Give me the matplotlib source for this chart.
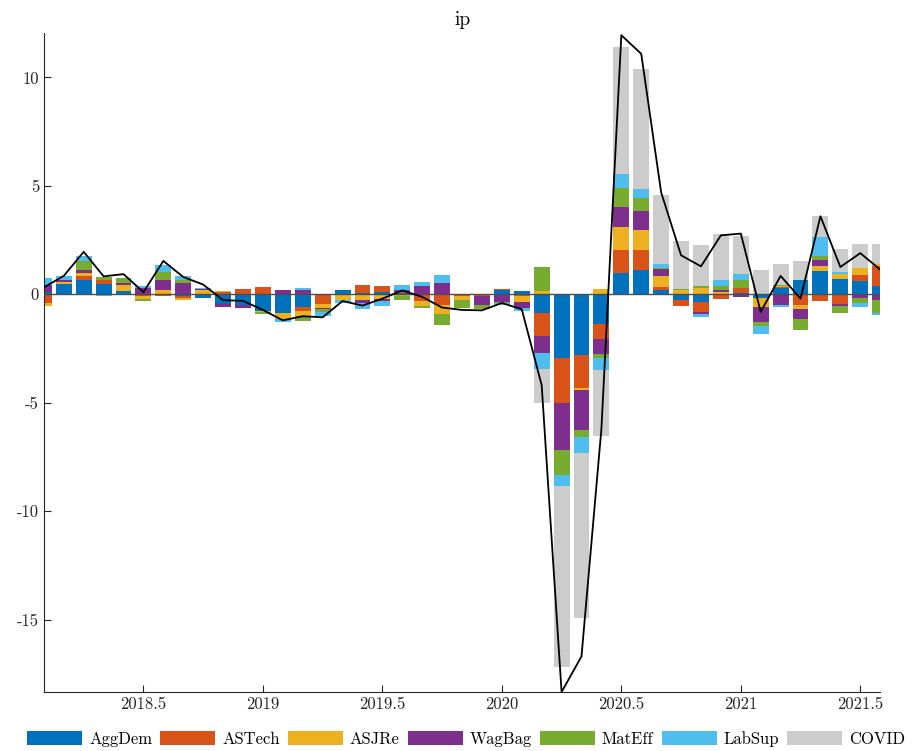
import matplotlib
matplotlib.use("Agg")
import matplotlib.pyplot as plt
import numpy as np

# monthly dates, Feb 2018 .. Aug 2021 (decimal year)
n = 43
dates = 2018 + (np.arange(n) + 1) / 12.0

shock_names = ['AggDem', 'ASTech', 'ASJRe', 'WagBag', 'MatEff', 'LabSup', 'COVID']
colors = ['#0072BD', '#D95319', '#EDB120', '#7E2F8E', '#77AC30', '#4DBEEE', '#CCCCCC']

aggdem = [0.1, 0.49, 0.65, 0.49, 0.15, 0, 0, -0.1, -0.15, -0.43, -0.5, -0.78, -0.88, -0.58, 0.03,
          0.22, 0.08, 0.1, 0.05, 0, 0, 0, 0, 0.2, 0.15, -0.85, -2.93, -2.78, -1.35, 0.98,
          1.1, 0.18, -0.28, -0.35, 0, 0.05, -0.15, 0.3, 0.65, 1.08, 0.72, 0.62, 0.37]
astech = [-0.4, -0.05, 0.18, 0.18, 0, -0.08, -0.08, -0.05, 0, 0.1, 0.26, 0.32, 0, -0.2, -0.46,
          -0.05, 0.35, 0.3, 0.05, -0.3, -0.5, -0.08, -0.08, 0.05, -0.07, -1.05, -2.07, -1.54, -0.69, 1.05,
          0.95, 0.18, -0.28, -0.46, -0.2, 0.25, 0, 0.05, -0.5, -0.3, -0.46, 0.29, 0.92]
asjre = [-0.12, 0.08, 0.15, 0, 0.26, -0.12, 0.22, -0.1, 0.18, 0.05, 0, -0.05, -0.25, -0.23, -0.15,
         -0.22, -0.25, -0.2, -0.1, -0.23, -0.43, -0.2, 0, 0, -0.28, 0.15, -0.02, -0.1, 0.26, 1.08,
         0.92, 0.5, 0.2, 0.3, 0.1, 0, -0.43, 0.05, -0.2, 0.22, 0.23, 0.32, 0.12]
wagbag = [0.34, 0.1, 0.15, 0, 0.12, 0.3, 0.43, 0.5, 0.06, -0.15, -0.12, 0, 0.18, 0.22, -0.06,
          0, -0.15, -0.1, 0.12, 0.4, 0.52, 0, -0.43, -0.35, -0.26, -0.8, -2.14, -1.85, -0.69, 0.92,
          0.85, 0.3, 0, -0.1, 0.12, -0.12, -0.7, -0.5, -0.46, 0.3, -0.1, -0.15, -0.28]
mateff = [0, 0, 0.4, 0.12, 0.23, -0.1, 0.38, 0.15, 0, 0, 0, -0.1, 0, -0.22, -0.14,
          0, 0, 0, -0.15, -0.12, -0.5, -0.35, -0.15, -0.05, 0, 1.1, -1.16, -0.31, -0.2, 0.89,
          0.63, 0.05, 0.05, 0.08, 0.18, 0.35, -0.2, 0.05, -0.5, 0.18, -0.3, -0.25, -0.58]
labsup = [0.3, 0.17, 0.23, -0.08, 0, 0.08, 0.34, 0.2, 0.05, 0, 0, 0, -0.13, 0.05, -0.2,
          -0.12, -0.3, -0.25, 0.22, 0.16, 0.35, 0, 0, -0.08, -0.15, -0.74, -0.5, -0.76, -0.54, 0.62,
          0.42, 0.2, 0, -0.12, 0.28, 0.27, -0.34, -0.08, 0.03, 0.86, 0.06, -0.2, -0.1]
covid = [0] * 25 + [-1.57, -8.37, -7.58, -3.07, 5.88, 5.5, 3.15, 2.2, 1.88, 2.1, 1.77, 1.1, 0.95,
                    0.86, 0.95, 1.1, 1.08, 0.92]

ip = [0.32, 0.85, 1.96, 0.83, 0.93, 0.1, 1.54, 0.8, 0.45, -0.27, -0.3, -0.72, -1.2, -1.01, -1.06,
      -0.31, -0.52, -0.2, 0.18, -0.12, -0.61, -0.72, -0.74, -0.4, -0.69, -4.19, -18.34, -16.7, -6.2, 11.95,
      11.09, 4.7, 1.8, 1.29, 2.72, 2.8, -0.81, 0.85, -0.2, 3.6, 1.26, 1.9, 1.14]

plt.rcParams['font.family'] = 'cmr10'
plt.rcParams['axes.unicode_minus'] = False
plt.rcParams['mathtext.fontset'] = 'cm'

fig = plt.figure(figsize=(9.14, 7.51), dpi=100)
ax = fig.add_axes([0.048, 0.0786, 0.915, 0.8774])

contribs = np.array([aggdem, astech, asjre, wagbag, mateff, labsup, covid])
width = 0.8 / 12
pos_base = np.zeros(n)
neg_base = np.zeros(n)
handles = []
for k in range(len(shock_names)):
    v = contribs[k]
    vp = np.where(v > 0, v, 0)
    vn = np.where(v < 0, v, 0)
    h = ax.bar(dates, vp, width, bottom=pos_base, color=colors[k], edgecolor='none', label=shock_names[k])
    ax.bar(dates, vn, width, bottom=neg_base, color=colors[k], edgecolor='none')
    pos_base += vp
    neg_base += vn
    handles.append(h)

ax.axhline(0, color='#4d4d4d', lw=1.0, zorder=3)
ax.plot(dates, ip, color='black', lw=1.3, zorder=4)

ax.set_xlim(2018 + 1 / 12, 2021 + 7 / 12)
ax.set_ylim(min(ip), 12.05)
ax.set_xticks([2018.5, 2019, 2019.5, 2020, 2020.5, 2021, 2021.5])
ax.set_xticklabels(['2018.5', '2019', '2019.5', '2020', '2020.5', '2021', '2021.5'])
ax.set_yticks([-15, -10, -5, 0, 5, 10])
ax.set_yticklabels(['-15', '-10', '-5', '0', '5', '10'])
ax.tick_params(direction='in', length=5, labelsize=12, colors='#262626')
ax.spines['top'].set_visible(False)
ax.spines['right'].set_visible(False)
for s in ['left', 'bottom']:
    ax.spines[s].set_color('#262626')
ax.set_title('ip', fontsize=14)

fig.legend(handles=handles, loc='lower center', bbox_to_anchor=(0.51, -0.012), ncol=7, frameon=False,
           fontsize=12, handlelength=3.3, handleheight=0.9, columnspacing=0.5, handletextpad=0.4,
           borderpad=0.3)

fig.savefig('out.png', dpi=100)
